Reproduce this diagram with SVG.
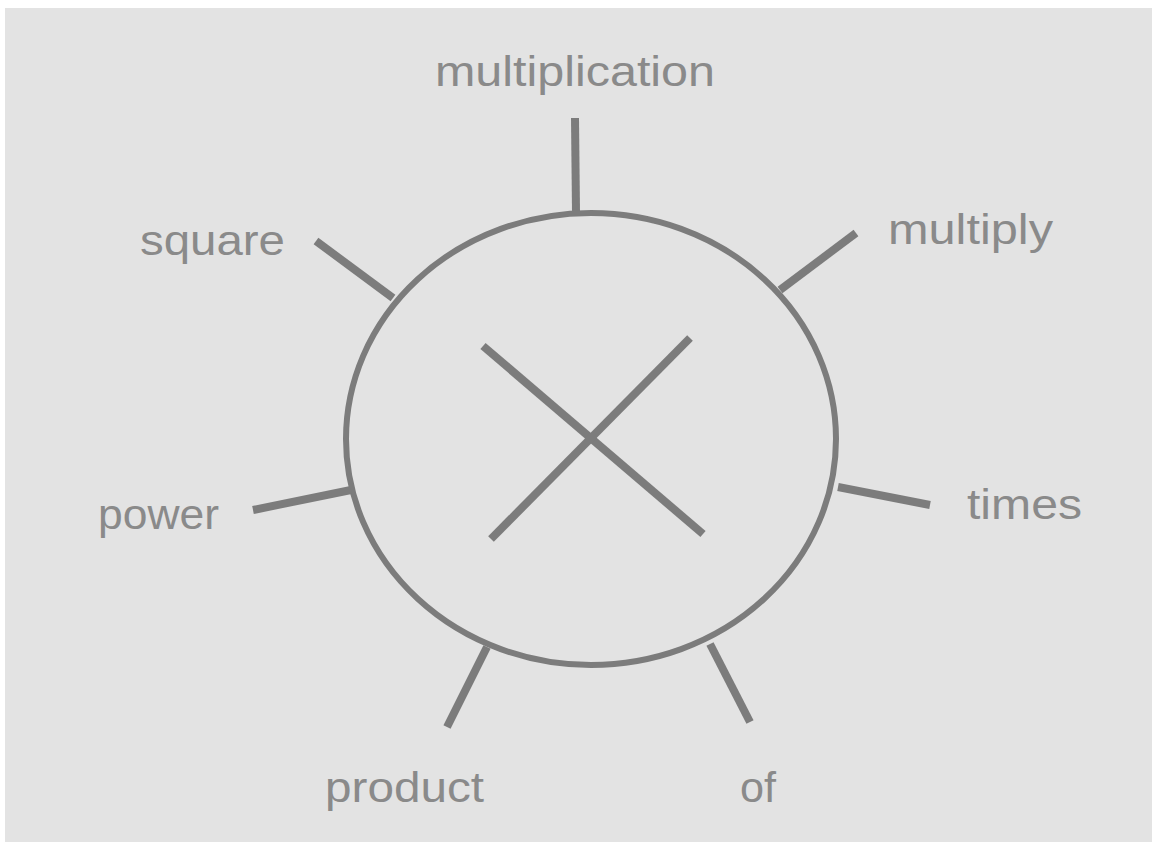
<svg xmlns="http://www.w3.org/2000/svg" width="1152" height="842" viewBox="0 0 1152 842">
<style>
.bg{fill:#e3e3e3}
.ln{stroke:#7c7c7c;stroke-width:8;stroke-linecap:butt;fill:none}
.ring{stroke:#7c7c7c;stroke-width:6;fill:none}
.lbl{font-family:"Liberation Sans",Arial,sans-serif;font-size:43px;fill:#8a8a8a}
</style>
<rect x="0" y="0" width="1152" height="842" fill="#ffffff"/>
<rect class="bg" x="5" y="8" width="1147" height="834"/>
<g id="hub">
<ellipse class="ring" cx="591" cy="439" rx="245" ry="226"/>
<line class="ln" x1="483" y1="346" x2="703" y2="534"/>
<line class="ln" x1="491" y1="539" x2="690" y2="338"/>
</g>
<g id="connectors">
<line class="ln" x1="575" y1="118" x2="576" y2="212"/>
<line class="ln" x1="316" y1="241" x2="393" y2="298"/>
<line class="ln" x1="856" y1="233" x2="780" y2="290"/>
<line class="ln" x1="253" y1="510" x2="351" y2="490"/>
<line class="ln" x1="838" y1="487" x2="930" y2="505"/>
<line class="ln" x1="447" y1="727" x2="487" y2="647"/>
<line class="ln" x1="750" y1="722" x2="710" y2="644"/>
</g>
<g id="n-multiplication"><text class="lbl" x="435" y="86" textLength="280" lengthAdjust="spacingAndGlyphs">multiplication</text></g>
<g id="n-square"><text class="lbl" x="140" y="255" textLength="145" lengthAdjust="spacingAndGlyphs">square</text></g>
<g id="n-multiply"><text class="lbl" x="888" y="244" textLength="165" lengthAdjust="spacingAndGlyphs">multiply</text></g>
<g id="n-power"><text class="lbl" x="98" y="529" textLength="121" lengthAdjust="spacingAndGlyphs">power</text></g>
<g id="n-times"><text class="lbl" x="967" y="519" textLength="115" lengthAdjust="spacingAndGlyphs">times</text></g>
<g id="n-product"><text class="lbl" x="325" y="802" textLength="159" lengthAdjust="spacingAndGlyphs">product</text></g>
<g id="n-of"><text class="lbl" x="740" y="802" textLength="36" lengthAdjust="spacingAndGlyphs">of</text></g>
</svg>
